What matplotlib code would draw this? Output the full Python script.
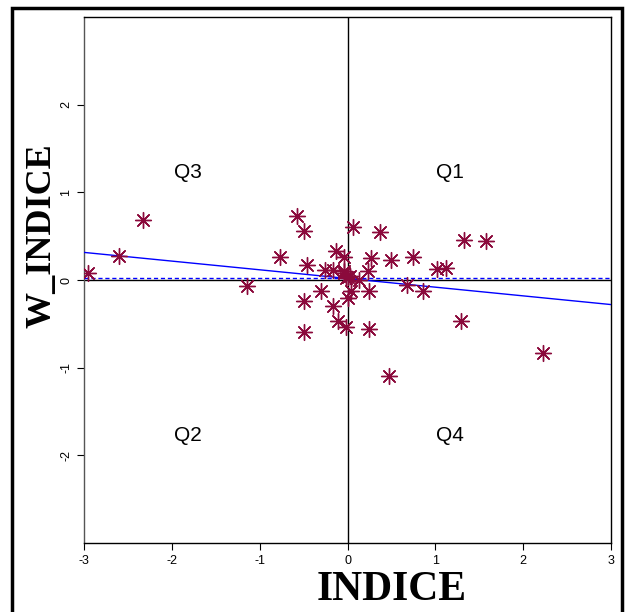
import matplotlib
matplotlib.use("Agg")
import matplotlib.pyplot as plt
import numpy as np
from matplotlib.patches import Rectangle

# Data
indice = [-2.96, -2.60, -2.33, -1.15, -0.77, -0.58, -0.49, -0.46, -0.49, -0.49,
          -0.30, -0.26, -0.16, -0.13, -0.04, -0.16, -0.11, -0.02, 0.00, 0.04,
          -0.04, -0.02, 0.00, 0.03, 0.06, 0.13, 0.37, 0.27, 0.23, 0.49,
          0.75, 1.02, 1.12, 1.33, 1.58, 0.68, 0.86, 0.25, 0.25, 1.29,
          2.22, 0.47, -0.04]
w_indice = [0.08, 0.27, 0.68, -0.07, 0.26, 0.73, 0.56, 0.17, -0.24, -0.59,
            -0.13, 0.12, 0.12, 0.33, 0.26, -0.30, -0.47, -0.54, -0.21, -0.13,
            0.08, 0.02, 0.03, 0.05, 0.61, 0.00, 0.55, 0.25, 0.10, 0.23,
            0.26, 0.13, 0.14, 0.46, 0.44, -0.06, -0.13, -0.13, -0.56, -0.47,
            -0.83, -1.10, 0.10]
reg_x = [-3, 3]
reg_y = [0.315, -0.28]
mean_level = 0.02
quad_labels = ["Q3", "Q1", "Q2", "Q4"]
quad_x = [-1.82, 1.17, -1.82, 1.17]
quad_y = [1.23, 1.23, -1.77, -1.77]
xticks = [-3, -2, -1, 0, 1, 2, 3]
yticks = [-2, -1, 0, 1, 2]

fig = plt.figure(figsize=(6.26, 6.12), dpi=100)
fig.patch.set_facecolor("white")
ax = fig.add_axes([0.1342, 0.1127, 0.8419, 0.8595])

ax.set_xlim(-3, 3)
ax.set_ylim(-3, 3)

ax.axhline(0, color="black", lw=1.0, zorder=2)
ax.axvline(0, color="black", lw=1.0, zorder=2)
ax.axhline(mean_level, color="#0000ff", lw=1.0, ls=(0, (3, 2)), zorder=3)
ax.plot(reg_x, reg_y, color="#0000ff", lw=1.0, zorder=3)

ax.scatter(indice, w_indice, marker=(8, 2, 0), s=130, color="#8b0a3c",
           linewidths=1.0, zorder=4)
ax.scatter(indice, w_indice, marker="o", s=6, color="#8b0a3c", zorder=5)

for lab, qx, qy in zip(quad_labels, quad_x, quad_y):
    ax.text(qx, qy, lab, fontsize=15, family="Liberation Sans",
            ha="center", va="center", color="black")

ax.set_xticks(xticks)
ax.set_yticks(yticks)
ax.set_xticklabels([str(t) for t in xticks], family="Liberation Sans", fontsize=9)
ax.set_yticklabels([str(t) for t in yticks], family="Liberation Sans", fontsize=9,
                   rotation=90, va="center")
ax.tick_params(direction="out", length=5, width=0.8, colors="black")
ax.yaxis.set_ticks_position("left")
ax.xaxis.set_ticks_position("bottom")
for s in ["top", "right", "bottom"]:
    ax.spines[s].set_color("black")
    ax.spines[s].set_linewidth(1.0)
ax.spines["left"].set_color("#555555")
ax.spines["left"].set_linewidth(1.0)

ax.set_xlabel("INDICE", family="Liberation Serif", fontweight="bold",
              fontsize=30)
ax.xaxis.set_label_coords(0.583, -0.089)
ax.xaxis.label.set_va("center")
ax.set_ylabel("W_INDICE", family="Liberation Serif", fontweight="bold",
              fontsize=26)
ax.yaxis.set_label_coords(-0.08, 0.585)
ax.yaxis.label.set_va("center")

# outer frame
fig.add_artist(Rectangle((0.019, -0.05), 0.975, 1.037, transform=fig.transFigure,
                         fill=False, edgecolor="black", lw=2.5))

fig.savefig("out.png", dpi=100, facecolor="white")
